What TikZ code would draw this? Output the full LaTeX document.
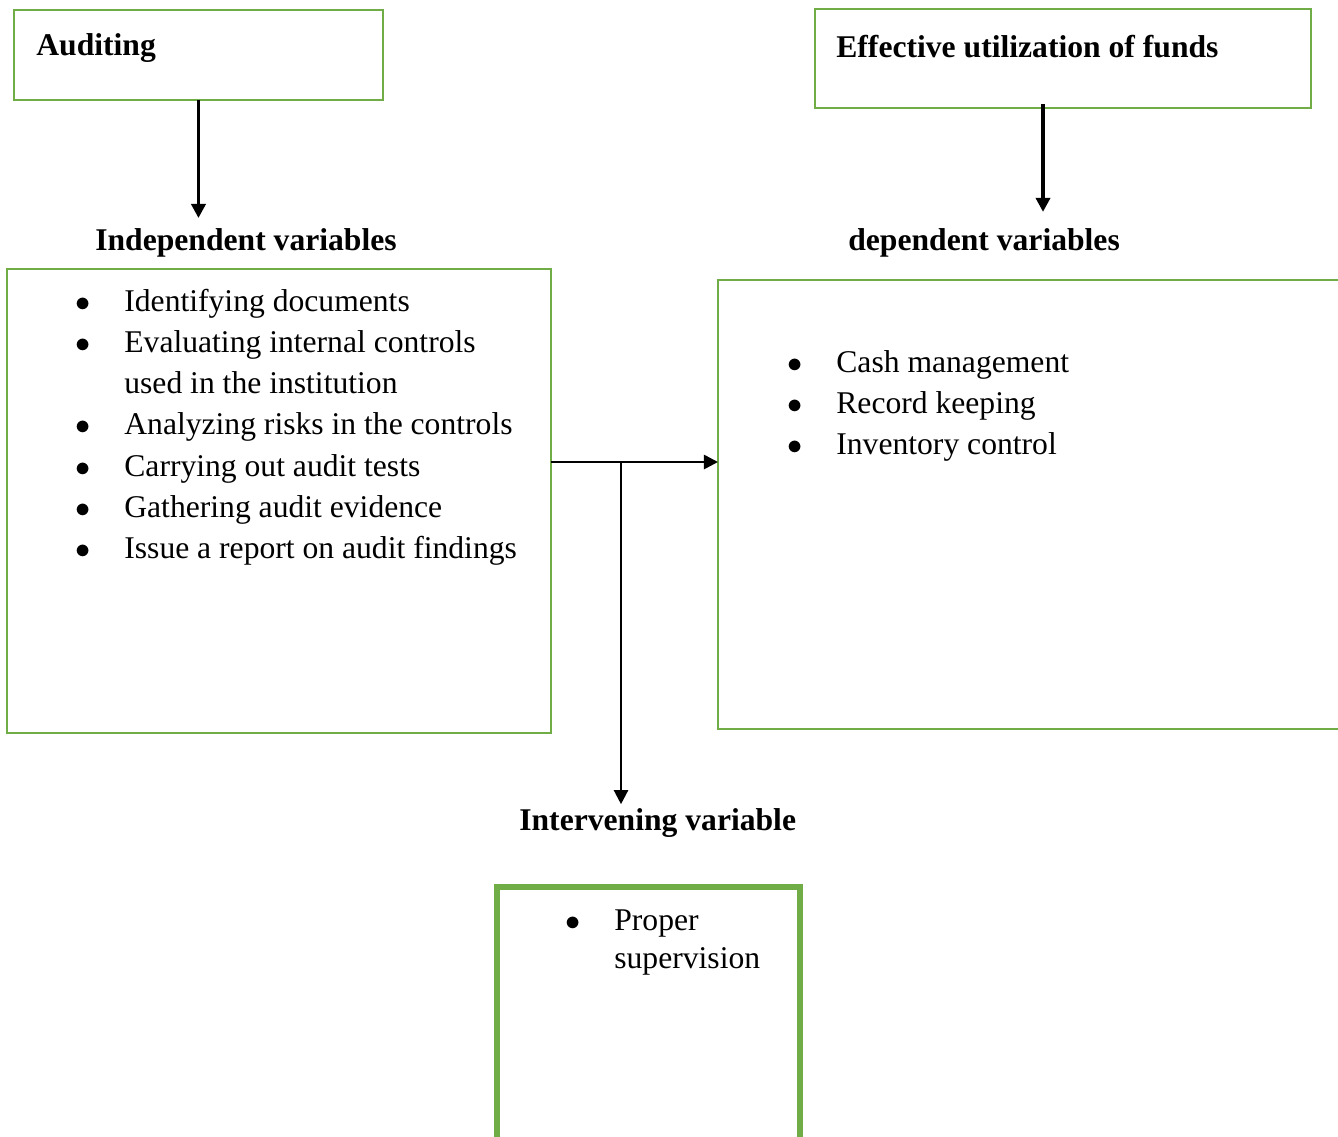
\documentclass[tikz,border=0pt]{standalone}
\usepackage{fontspec}
\setmainfont{Liberation Serif}
\usetikzlibrary{positioning,arrows.meta}
\definecolor{boxgreen}{HTML}{70AD47}

\tikzset{
	varbox/.style={draw=boxgreen, line width=1.3pt, inner sep=0pt, outer sep=0pt, anchor=north west},
	heading/.style={font=\fontsize{18}{22}\selectfont\bfseries, inner sep=0pt, anchor=base west},
	items/.style={font=\fontsize{18}{23.5}\selectfont, inner sep=0pt, anchor=base west},
	flow/.style={line width=1.5pt, -{Triangle[length=8pt,width=8pt]}}
}
\newcommand{\itemlist}[1]{\begin{tabular}[t]{@{}p{27.9pt}@{}l@{}}#1\end{tabular}}
\newcommand{\bul}{$\bullet$}

\begin{document}
\begin{tikzpicture}[x=0.02cm, y=-0.02cm]
			%%%%% START %%%%%
			\useasboundingbox (0, 0) rectangle (1338, 1136);
			\clip (0, 0) rectangle (1338, 1136);
			
			% boxes
			\node[varbox, minimum width=7.38cm, minimum height=1.8cm] (audit) at (14, 10) {};
			\node[varbox, minimum width=9.92cm, minimum height=1.98cm] (effect) at (815, 9) {};
			\node[varbox, minimum width=10.88cm, minimum height=9.28cm] (indep) at (7, 269) {};
			\node[varbox, minimum width=12.6cm, minimum height=8.98cm] (dep) at (718, 280) {};
			\node[varbox, line width=3.8pt, minimum width=6.06cm, minimum height=5.3cm] (interv) at (497, 887) {};
			
			% headings
			\node[heading] (audittext) at (36, 55) {Auditing};
			\node[heading] (effecttext) at (836, 57) {Effective utilization of funds};
			\node[heading] (indephead) at (95, 250) {Independent variables};
			\node[heading] (dephead) at (848, 250) {dependent variables};
			\node[heading] (intervhead) at (519, 830) {Intervening variable};
			
			% lists
			\node[items] (indeplist) at (75, 311) {\itemlist{
				\bul & Identifying documents\\
				\bul & Evaluating internal controls\\
				& used in the institution\\
				\bul & Analyzing risks in the controls\\
				\bul & Carrying out audit tests\\
				\bul & Gathering audit evidence\\
				\bul & Issue a report on audit findings}};
			\node[items] (deplist) at (787, 372) {\itemlist{
				\bul & Cash management\\
				\bul & Record keeping\\
				\bul & Inventory control}};
			\node[items, font=\fontsize{18}{21.8}\selectfont] (intervlist) at (565, 930) {\itemlist{
				\bul & Proper\\
				& supervision}};
			
			% connectors
			\coordinate (effdrop) at (1043, 104);
			\coordinate (junc) at (621, 462);
			\draw[flow, line width=2.2pt, shorten >=5.5pt] (audit.south) -- (audit.south |- indephead.north);
			\draw[flow, line width=2.2pt, shorten >=9pt] (effdrop) -- (effdrop |- dephead.north);
			\draw[flow] (indep.east |- junc) -- (dep.west |- junc);
			\draw[flow, line width=1.3pt, shorten >=2pt] (junc) -- (junc |- intervhead.north);
			
			%%%%% END %%%%%
\end{tikzpicture}
\end{document}
